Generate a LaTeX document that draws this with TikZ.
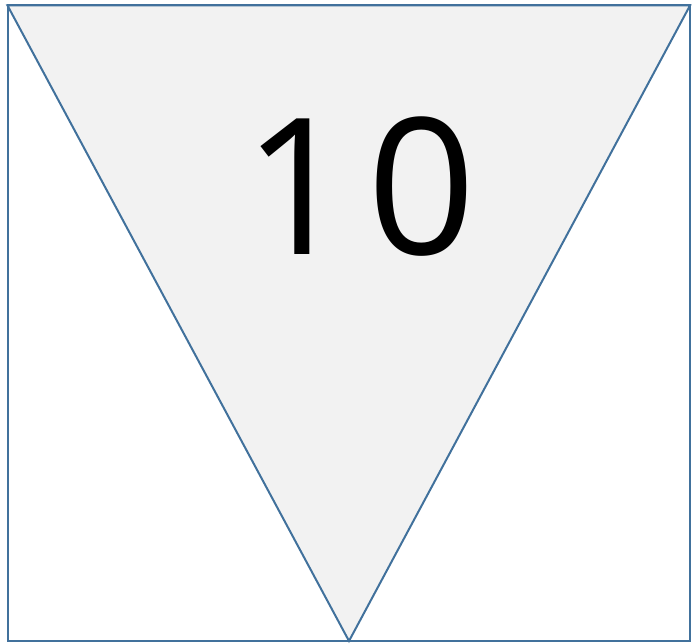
\documentclass[tikz,border=0pt]{standalone}
\usepackage{fontspec}
\setmainfont{Open Sans}
\newfontfamily\numfont[LetterSpace=8]{Open Sans}
\usepackage{xcolor}
\definecolor{edgeblue}{RGB}{65,113,156}
\definecolor{panelgrey}{RGB}{242,242,242}

\begin{document}
\begin{tikzpicture}[x=1pt, y=1pt,
    outline/.style={draw=edgeblue, line width=2pt, line join=miter},
    bignum/.style={font=\numfont\fontsize{190}{196}\selectfont, text=black, inner sep=0pt}
]
    \useasboundingbox (0,0) rectangle (692,643);
    % outer frame and the inverted triangle
    \draw[outline] (7.5,2) rectangle (690,637.5);
    \draw[outline, fill=panelgrey] (7.5,637.5) -- (690,637.5) -- (349,2) -- cycle;

    \node[bignum] (num) at (360,456) {10};
\end{tikzpicture}
\end{document}
